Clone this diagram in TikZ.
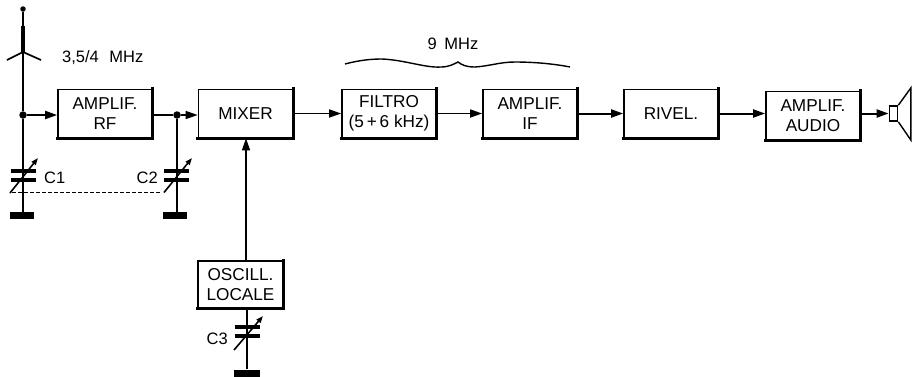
\documentclass[tikz,border=0pt]{standalone}
\usepackage{fontspec}
\setmainfont{Liberation Sans}
\usetikzlibrary{arrows.meta}
\tikzset{
  x=1pt,y=-1pt,
  blockbox/.style={draw=black,line width=1.7pt,fill=white,minimum width=#1,minimum height=48pt,inner sep=0pt,align=center,font=\fontsize{17.2}{20.5}\selectfont},
  blockbox/.default=94pt,
  lbl/.style={inner sep=0pt,font=\fontsize{16.5}{18}\selectfont},
  wire/.style={line width=2pt},
  conn/.style={line width=2pt,-{Triangle[length=12pt,width=8pt]}},
  plate/.style={line width=4pt},
  tune/.style={line width=1.6pt,-{Triangle[length=7pt,width=5pt]}},
  gnd/.style={fill=black,draw=none,inner sep=0pt,minimum width=24pt,minimum height=7pt},
  dot/.style={circle,fill=black,draw=none,inner sep=0pt,minimum size=7.5pt},
  shadowline/.style={line width=3.2pt,line cap=rect},
}
\begin{document}
\begin{tikzpicture}
\useasboundingbox (0,0) rectangle (912,376);
% blocks
\node[blockbox] (rf)  at (105,113.5) {\raisebox{-1pt}{AMPLIF.}\\\raisebox{-1pt}{RF}};
\node[blockbox] (mix) at (245.5,113.5) {\raisebox{-2.5pt}{MIXER}};
\node[blockbox] (fil) at (389,113.5) {\raisebox{-1pt}{FILTRO}\\\raisebox{-1pt}{(5\,+\,6 kHz)}};
\node[blockbox] (if)  at (530,113.5) {\raisebox{-1pt}{AMPLIF.}\\\raisebox{-1pt}{IF}};
\node[blockbox] (riv) at (671,113.5) {\raisebox{-2.5pt}{RIVEL.}};
\node[blockbox] (aud) at (813,115.5) {AMPLIF.\\AUDIO};
\node[blockbox=85pt,minimum height=47pt] (osc) at (240.5,284.5) {OSCILL.\\LOCALE};
\foreach \n in {rf,mix,fil,if,riv,aud,osc}
  \draw[shadowline] (\n.north east) -- (\n.south east) -- (\n.south west);
% antenna
\coordinate (tip) at (23,9);
\coordinate (ant) at (23,52);
\coordinate (antl) at (7,60);
\coordinate (antr) at (41,60);
\node[circle,fill=black,inner sep=0pt,minimum size=5.5pt] (top) at (tip) {};
\node[gnd] (g1) at (22,215.5) {};
\node[gnd] (g2) at (175,215.5) {};
\node[gnd,minimum width=26pt] (g3) at (247,373) {};
\node[dot] (j1) at (23,115) {};
\node[dot] (j2) at (177,115) {};
\draw[line width=1.4pt] (top) -- (23,26);
\draw[line width=4.5pt] (23,26) -- (ant);
\draw[line width=1.7pt] (antl) -- (ant) -- (antr);
\draw[wire] (ant) -- (j1) -- (g1.north-|j1);
\draw[wire] (j2) -- (g2.north-|j2);
% signal chain
\draw[conn] (j1) -- (rf.west|-j1);
\draw[wire] (rf.east|-j2) -- (j2);
\draw[conn,line width=1.6pt] (j2) -- (mix.west|-j2);
\draw[conn,line width=1.6pt] (mix.east|-fil) -- (fil.west);
\draw[conn,line width=1.6pt] (fil.east) -- (if.west);
\draw[conn] (if.east) -- (riv.west);
\draw[conn] (riv.east) -- (aud.west|-riv.east);
\coordinate (mo) at (246,261);
\draw[conn,line width=1.6pt] (osc.north-|mo) -- (mix.south-|mo);
% capacitors
\foreach \x/\ya/\yb/\xs/\ys/\xe/\ye in {23/170.5/179.5/10/193/38/158, 176.5/171/179.5/164/192.5/192/158, 247/327/336/234/350/263/316}{
  \draw[plate] (\x-12.5,\ya) -- (\x+12.5,\ya);
  \draw[plate] (\x-12.5,\yb) -- (\x+12.5,\yb);
  \draw[tune] (\xs,\ys) -- (\xe,\ye);
}
\draw[wire] (osc.south-|g3) -- (g3.north);
\draw[line width=.8pt,dash pattern=on 3.5pt off 2.5pt] (12,192.5) -- (160,192.5);
% labels
\node[lbl,anchor=west] (l1) at (62,58) {3,5/4\hspace{6pt} MHz};
\node[lbl,anchor=west] (c1) at (44,178) {C1};
\node[lbl,anchor=east] (c2) at (158,178) {C2};
\node[lbl,anchor=east] (c3) at (228,339) {C3};
\node[lbl] (l2) at (453,44) {9\hspace{3pt} MHz};
% brace
\draw[line width=1.4pt] (345,64) .. controls (360,60) and (372,59) .. (382,59)
  .. controls (405,60) and (425,68) .. (441,67)
  .. controls (449,67) and (454,64) .. (458,62)
  .. controls (462,65) and (466,67) .. (475,67)
  .. controls (490,66) and (500,62) .. (515,62)
  .. controls (535,62) and (555,64) .. (570,67);
% loudspeaker
\node[draw=black,line width=1.7pt,fill=white,minimum width=8pt,minimum height=15pt,inner sep=0pt] (spk) at (893.5,113.5) {};
\draw[conn] (aud.east|-spk) -- (spk.west);
\draw[line width=1.4pt] (spk.north east) -- (910.8,88) -- (910.8,140) -- (spk.south east);
\end{tikzpicture}
\end{document}
